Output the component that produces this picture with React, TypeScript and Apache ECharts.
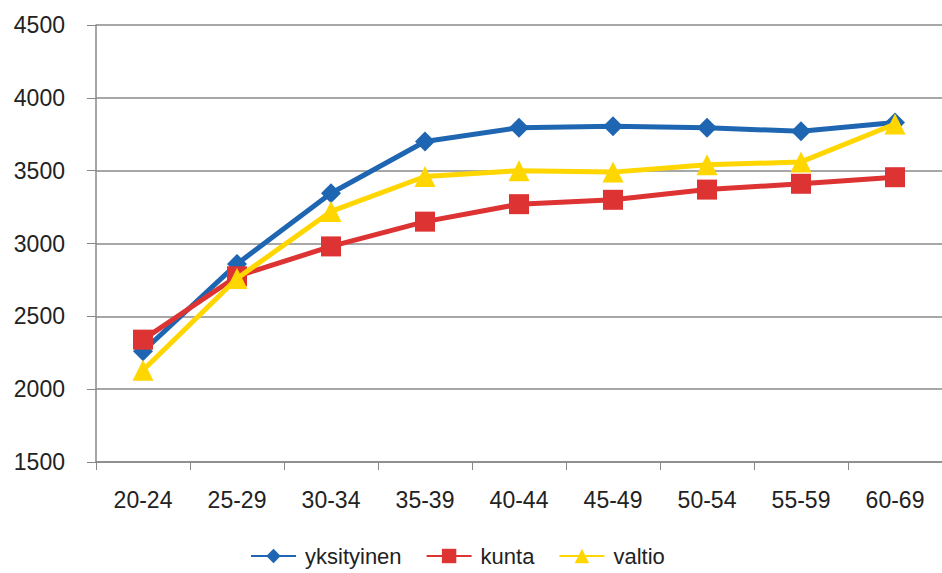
import React, { useEffect, useRef } from "react";
import * as echarts from "echarts";

const categories = ["20-24", "25-29", "30-34", "35-39", "40-44", "45-49", "50-54", "55-59", "60-69"];
const yksityinen = [2260, 2860, 3345, 3700, 3795, 3805, 3795, 3770, 3830];
const kunta = [2340, 2775, 2980, 3150, 3270, 3300, 3370, 3410, 3455];
const valtio = [2130, 2760, 3220, 3460, 3500, 3490, 3540, 3560, 3820];
const seriesNames = ["yksityinen", "kunta", "valtio"];

export default function App() {
  const ref = useRef<HTMLDivElement>(null);
  useEffect(() => {
    if (!ref.current) return;
    const chart = echarts.init(ref.current, undefined, { renderer: "svg" });
    const font = "'Liberation Sans', Arial, sans-serif";
    chart.setOption({
      animation: false,
      backgroundColor: "#ffffff",
      grid: { left: 96, right: -8, top: 25, bottom: 111, containLabel: false },
      legend: {
        bottom: 1,
        left: 245,
        itemWidth: 45,
        itemHeight: 18,
        itemGap: 24,
        textStyle: { fontFamily: font, fontSize: 22, color: "#222", padding: [0, 0, 0, 4] },
        data: seriesNames,
      },
      xAxis: {
        type: "category",
        data: categories,
        boundaryGap: true,
        axisLine: { lineStyle: { color: "#888", width: 1.5 } },
        axisTick: { show: true, length: 8, lineStyle: { color: "#888" } },
        axisLabel: { fontFamily: font, fontSize: 23, color: "#222", margin: 26 },
      },
      yAxis: {
        type: "value",
        min: 1500,
        max: 4500,
        interval: 500,
        axisLine: { show: true, lineStyle: { color: "#888", width: 1.5 } },
        axisTick: { show: true, length: 9, lineStyle: { color: "#888" } },
        axisLabel: {
          fontFamily: font,
          fontSize: 23,
          color: "#222",
          margin: 31,
          formatter: (v: number) => String(v),
        },
        splitLine: { lineStyle: { color: "#8a8a8a", width: 1.5 } },
      },
      series: [
        {
          name: seriesNames[0],
          type: "line",
          data: yksityinen,
          symbol: "diamond",
          symbolSize: 20,
          lineStyle: { width: 5, color: "#1F66B2" },
          itemStyle: { color: "#1F66B2" },
          z: 3,
        },
        {
          name: seriesNames[1],
          type: "line",
          data: kunta,
          symbol: "rect",
          symbolSize: 20,
          lineStyle: { width: 5, color: "#DD3333" },
          itemStyle: { color: "#DD3333" },
          z: 4,
        },
        {
          name: seriesNames[2],
          type: "line",
          data: valtio,
          symbol: "triangle",
          symbolSize: 21,
          lineStyle: { width: 5, color: "#FFD600" },
          itemStyle: { color: "#FFD600" },
          z: 5,
        },
      ],
    });
    return () => chart.dispose();
  }, []);
  return <div ref={ref} style={{ position: "fixed", left: 0, top: 0, width: 942, height: 573 }} />;
}
